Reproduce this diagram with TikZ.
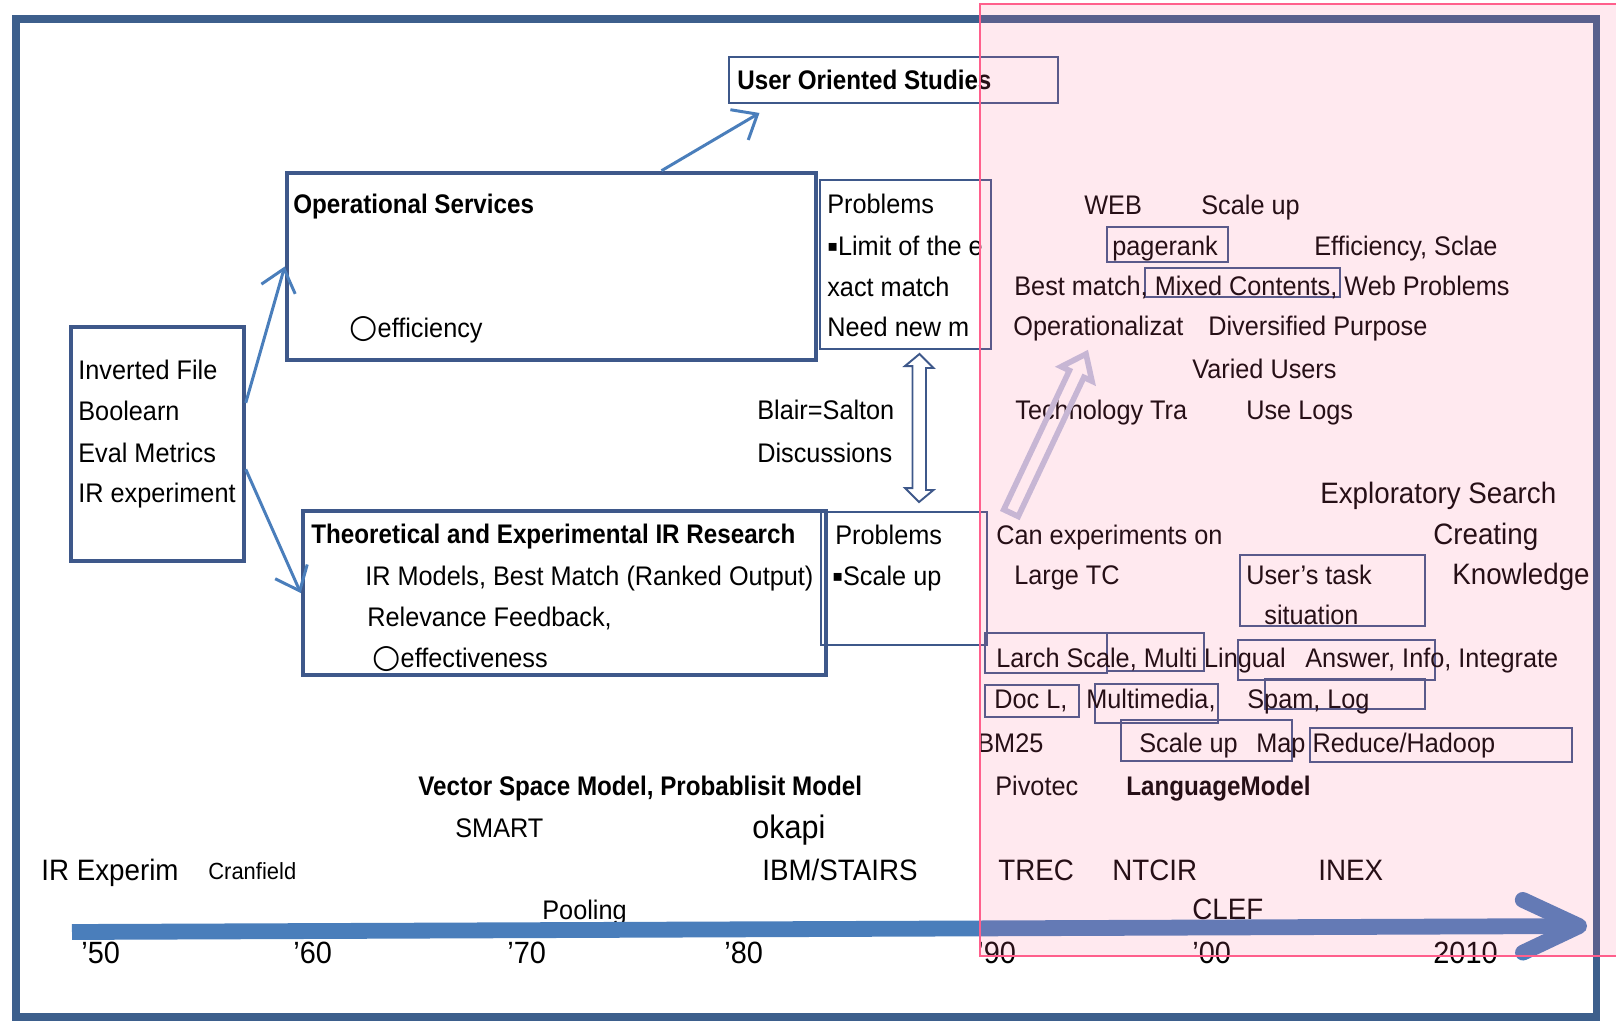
\documentclass[tikz,border=0pt]{standalone}
\usepackage{fontspec}
\setmainfont{Liberation Sans}[FakeStretch=0.94]
\newfontfamily\headfont{Liberation Sans}[FakeStretch=0.9]
\newfontfamily\symfont{DejaVu Sans}
\usepackage{tikz}
\usetikzlibrary{positioning,calc,fit,arrows.meta}
\definecolor{framecol}{RGB}{61,95,140}
\definecolor{boxcol}{RGB}{62,88,138}
\definecolor{arrcol}{RGB}{74,126,187}
\definecolor{pinkline}{RGB}{255,95,140}
\definecolor{pinkfill}{RGB}{255,105,150}
\definecolor{lavender}{RGB}{190,196,224}
\newcommand{\sqbul}{\raisebox{1.8pt}{\symfont\fontsize{9}{9}\selectfont ▪}}
\newcommand{\maru}{{\symfont\fontsize{18.5}{18}\selectfont ○}}

\begin{document}
\begin{tikzpicture}[x=0.02cm, y=-0.02cm,
        lbl/.style={anchor=base west, inner sep=0pt, font=\fontsize{15.3}{18}\selectfont},
        biglbl/.style={lbl, font=\fontsize{16.8}{20}\selectfont},
        yearlbl/.style={lbl, font=\fontsize{17.5}{21}\selectfont},
        head/.style={lbl, font=\headfont\bfseries\fontsize{15.3}{18}\selectfont},
        bigbox/.style={draw=boxcol, line width=2.6pt, inner sep=0pt},
        invbox/.style={draw=boxcol, line width=2pt, inner sep=0pt},
        thinbox/.style={draw=boxcol, line width=1.1pt, inner sep=0pt},
        line/.style={draw=arrcol, line width=1.7pt, -{Straight Barb[length=12pt, width=20pt]}}]
    \useasboundingbox (0,0) rectangle (1616,1021);

    % boxes
    \node [thinbox, fit={(729,57) (1058,103)}] (uos) {};
    \node [bigbox, fit={(287,173) (816,360)}] (os) {};
    \node [thinbox, fit={(820,180) (991,349)}] (osprob) {};
    \node [invbox, fit={(71,327) (244,561)}] (inv) {};
    \node [bigbox, fit={(303,511) (826,675)}] (th) {};
    \node [thinbox, fit={(821,512) (987,645)}] (thprob) {};
    \node [thinbox, fit={(1107,227) (1228,262)}] (pgbox) {};
    \node [thinbox, fit={(1145,268) (1340,297)}] (mixbox) {};
    \node [thinbox, fit={(1240,555) (1425,626)}] (taskbox) {};
    \node [thinbox, fit={(985,633) (1107,673)}] (larchbox) {};
    \node [thinbox, fit={(1107,633) (1204,671)}] (multibox) {};
    \node [thinbox, fit={(1238,640) (1435,680)}] (answerbox) {};
    \node [thinbox, fit={(985,685) (1079,717)}] (docbox) {};
    \node [thinbox, fit={(1095,684) (1218,723)}] (mediabox) {};
    \node [thinbox, fit={(1265,679) (1425,709)}] (spambox) {};
    \node [thinbox, fit={(1121,720) (1292,761)}] (scalebox) {};
    \node [thinbox, fit={(1310,728) (1572,762)}] (hadoopbox) {};

    % left part
    \node [head] (uostxt) at (737,89) {User Oriented Studies};
    \node [head] (ostxt) at (293,213) {Operational Services};
    \node [lbl] (oseff) at (349,337) {\maru efficiency};
    \node [lbl] (osp1) at (827,213) {Problems};
    \node [lbl] (osp2) at (827,255) {\sqbul Limit of the e};
    \node [lbl] (osp3) at (827,296) {xact match};
    \node [lbl] (osp4) at (827,336) {Need new m};
    \node [lbl] (inv1) at (78,379) {Inverted File};
    \node [lbl] (inv2) at (78,420) {Boolearn};
    \node [lbl] (inv3) at (78,462) {Eval Metrics};
    \node [lbl] (inv4) at (78,502) {IR experiment};
    \node [lbl] (blair) at (757,419) {Blair=Salton};
    \node [lbl] (discuss) at (757,462) {Discussions};
    \node [head] (thtxt) at (311,543) {Theoretical and Experimental IR Research};
    \node [lbl] (th1) at (365,585) {IR Models, Best Match (Ranked Output)};
    \node [lbl] (th2) at (367,626) {Relevance Feedback,};
    \node [lbl] (th3) at (372,667) {\maru effectiveness};
    \node [lbl] (thp1) at (835,544) {Problems};
    \node [lbl] (thp2) at (832,585) {\sqbul Scale up};

    % right part
    \node [lbl] (web) at (1084,214) {WEB};
    \node [lbl] (scale1) at (1201,214) {Scale up};
    \node [lbl] (pagerank) at (1112,255) {pagerank};
    \node [lbl] (effsc) at (1314,255) {Efficiency, Sclae};
    \node [lbl] (best) at (1014,295) {Best match, Mixed Contents, Web Problems};
    \node [lbl] (oper) at (1013,335) {Operationalizat};
    \node [lbl] (divers) at (1208,335) {Diversified Purpose};
    \node [lbl] (varied) at (1192,378) {Varied Users};
    \node [lbl] (techtr) at (1015,419) {Technology Tra};
    \node [lbl] (uselogs) at (1246,419) {Use Logs};
    \node [biglbl] (explor) at (1320,503) {Exploratory Search};
    \node [lbl] (canexp) at (996,544) {Can experiments on};
    \node [biglbl] (creating) at (1433,544) {Creating};
    \node [lbl] (largetc) at (1014,584) {Large TC};
    \node [lbl] (task1) at (1246,584) {User’s task};
    \node [lbl] (task2) at (1264,624) {situation};
    \node [biglbl] (knowl) at (1452,584) {Knowledge};
    \node [lbl] (larch) at (996,667) {Larch Scale, Multi Lingual};
    \node [lbl] (answer) at (1305,667) {Answer, Info, Integrate};
    \node [lbl] (docl) at (994,708) {Doc L,};
    \node [lbl] (multim) at (1086,708) {Multimedia,};
    \node [lbl] (spam) at (1247,708) {Spam, Log};
    \node [lbl] (bm25) at (977,752) {BM25};
    \node [lbl] (scale2) at (1139,752) {Scale up};
    \node [lbl] (mapred) at (1256,752) {Map Reduce/Hadoop};
    \node [head] (vsm) at (418,795) {Vector Space Model, Probablisit Model};
    \node [lbl] (pivot) at (995,795) {Pivotec};
    \node [head] (langm) at (1126,795) {LanguageModel};

    % timeline labels
    \node [lbl] (smart) at (455,837) {SMART};
    \node [lbl, font=\fontsize{18.5}{22}\selectfont] (okapi) at (752,838) {okapi};
    \node [biglbl] (irexp) at (41,880) {IR Experim};
    \node [lbl, font=\fontsize{13.3}{16}\selectfont] (cranf) at (208,879) {Cranfield};
    \node [biglbl] (ibm) at (762,880) {IBM/STAIRS};
    \node [biglbl] (trec) at (998,880) {TREC};
    \node [biglbl] (ntcir) at (1112,880) {NTCIR};
    \node [biglbl] (inex) at (1318,880) {INEX};
    \node [lbl] (pooling) at (542,919) {Pooling};
    \node [biglbl] (clef) at (1192,919) {CLEF};
    \node [yearlbl] (y50) at (81,963) {'50};
    \node [yearlbl] (y60) at (293,963) {'60};
    \node [yearlbl] (y70) at (507,963) {'70};
    \node [yearlbl] (y80) at (724,963) {'80};
    \node [yearlbl] (y90) at (977,963) {'90};
    \node [yearlbl] (y00) at (1192,963) {'00};
    \node [yearlbl] (y10) at (1433,963) {2010};

    % connectors
    \path [line] (inv.25) -- (os.west);
    \path [line] (inv.-16) -- (th.west);
    \path [line] ($(os.north)+(110,0)$) -- ($(uos.south)+(-134,9)$);

    \coordinate (dtop) at ($(osprob.south)+(14,4)$);
    \coordinate (dbot) at ($(thprob.north)+(15,-9)$);
    \draw [boxcol, fill=white, line width=1.1pt] (dtop) -- ++(14,14) -- ++(-7.5,0) -- ++(0,122) -- ++(7.5,0)
        -- (dbot) -- ++(-14,-14) -- ++(7.5,0) -- ++(0,-122) -- ++(-7.5,0) -- cycle;

    \coordinate (tbase) at (1011,513);
    \coordinate (ttip) at (1086,354);
    \coordinate (thb) at ($(ttip)!0.44cm!(tbase)$);
    \draw [lavender, line width=3.2pt] ($(tbase)!0.16cm!90:(ttip)$) -- ($(thb)!0.16cm!90:(ttip)$)
        -- ($(thb)!0.34cm!90:(ttip)$) -- (ttip) -- ($(thb)!0.34cm!-90:(ttip)$)
        -- ($(thb)!0.16cm!-90:(ttip)$) -- ($(tbase)!0.16cm!-90:(ttip)$) -- cycle;

    % time axis
    \coordinate (t0) at (72,932);
    \coordinate (t1) at (1587,926);
    \draw [arrcol, line width=9pt, -{Straight Barb[length=32pt, width=30pt, round]}] (t0) -- (t1);

    \draw [framecol, line width=4pt] (16,19) rectangle (1596,1017);
    \draw [pinkline, line width=1.2pt, fill=pinkfill, fill opacity=0.15] (980,4) rectangle (1640,956);
\end{tikzpicture}
\end{document}
